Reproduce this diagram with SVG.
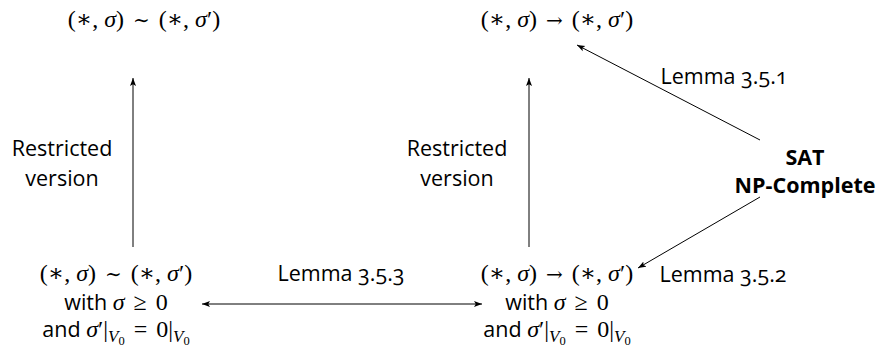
<svg xmlns="http://www.w3.org/2000/svg" width="882" height="349" viewBox="0 0 882 349">
<defs>
<marker id="ah" markerWidth="9" markerHeight="7" refX="8" refY="3.5" orient="auto-start-reverse" markerUnits="userSpaceOnUse">
<path d="M0,0.5 L8,3.5 L0,6.5 L1.8,3.5 z" fill="#000"/>
</marker>
<style>
.t{font-family:"Open Sans","Noto Sans",sans-serif;font-size:21.5px;fill:#000;text-anchor:middle;font-variant-numeric:oldstyle-nums}
.b{font-weight:bold}
.m{font-family:"Liberation Serif","DejaVu Serif",serif;font-size:24px}
.r{font-family:"DejaVu Serif",serif;font-size:20px}
.i{font-style:italic}
.s{font-size:17px}
.ss{font-size:12.5px}
.edge{stroke:#000;stroke-width:1;fill:none;marker-end:url(#ah)}
.both{marker-start:url(#ah)}
</style>
</defs>
<rect width="882" height="349" fill="#fff"/>
<g id="connectors">
<line class="edge" x1="133" y1="247" x2="133" y2="78"/>
<line class="edge" x1="529" y1="247" x2="529" y2="78"/>
<line class="edge both" x1="202" y1="304" x2="482" y2="304"/>
<line class="edge" x1="760" y1="140" x2="577" y2="45"/>
<line class="edge" x1="760" y1="197" x2="638" y2="268"/>
</g>
<g id="equiv-top">
<text class="t m" x="144" y="27">(∗, <tspan class="i">σ</tspan>) <tspan class="r" dx="3">∼</tspan><tspan dx="3"> (∗, </tspan><tspan class="i">σ</tspan>′)</text>
</g>
<g id="reach-top">
<text class="t m" x="557" y="27">(∗, <tspan class="i">σ</tspan>) <tspan class="r" dx="3">→</tspan><tspan dx="3"> (∗, </tspan><tspan class="i">σ</tspan>′)</text>
</g>
<g id="equiv-restricted">
<text class="t m" x="116" y="281">(∗, <tspan class="i">σ</tspan>) <tspan class="r" dx="3">∼</tspan><tspan dx="3"> (∗, </tspan><tspan class="i">σ</tspan>′)</text>
<text class="t" x="116" y="310">with <tspan class="m i">σ</tspan><tspan class="m" dx="3"> ≥ </tspan><tspan class="m" dx="3">0</tspan></text>
<text class="t" x="116" y="337">and <tspan class="m i">σ</tspan><tspan class="m">′|</tspan><tspan class="m i s" dy="5">V</tspan><tspan class="m ss" dy="2.5">0</tspan><tspan class="m" dy="-7.5" dx="3"> = </tspan><tspan class="m" dx="3">0|</tspan><tspan class="m i s" dy="5">V</tspan><tspan class="m ss" dy="2.5">0</tspan></text>
</g>
<g id="reach-restricted">
<text class="t m" x="557" y="281">(∗, <tspan class="i">σ</tspan>) <tspan class="r" dx="3">→</tspan><tspan dx="3"> (∗, </tspan><tspan class="i">σ</tspan>′)</text>
<text class="t" x="557" y="310">with <tspan class="m i">σ</tspan><tspan class="m" dx="3"> ≥ </tspan><tspan class="m" dx="3">0</tspan></text>
<text class="t" x="557" y="337">and <tspan class="m i">σ</tspan><tspan class="m">′|</tspan><tspan class="m i s" dy="5">V</tspan><tspan class="m ss" dy="2.5">0</tspan><tspan class="m" dy="-7.5" dx="3"> = </tspan><tspan class="m" dx="3">0|</tspan><tspan class="m i s" dy="5">V</tspan><tspan class="m ss" dy="2.5">0</tspan></text>
</g>
<g id="sat">
<text class="t b" x="805" y="165">SAT</text>
<text class="t b" x="805" y="193">NP-Complete</text>
</g>
<g id="labels">
<text class="t" x="62" y="156">Restricted</text>
<text class="t" x="62" y="186">version</text>
<text class="t" x="457" y="156">Restricted</text>
<text class="t" x="457" y="186">version</text>
<text class="t" x="341" y="281">Lemma 3.5.3</text>
<text class="t" x="724" y="84">Lemma 3.5.1</text>
<text class="t" x="723" y="282">Lemma 3.5.2</text>
</g>
</svg>
